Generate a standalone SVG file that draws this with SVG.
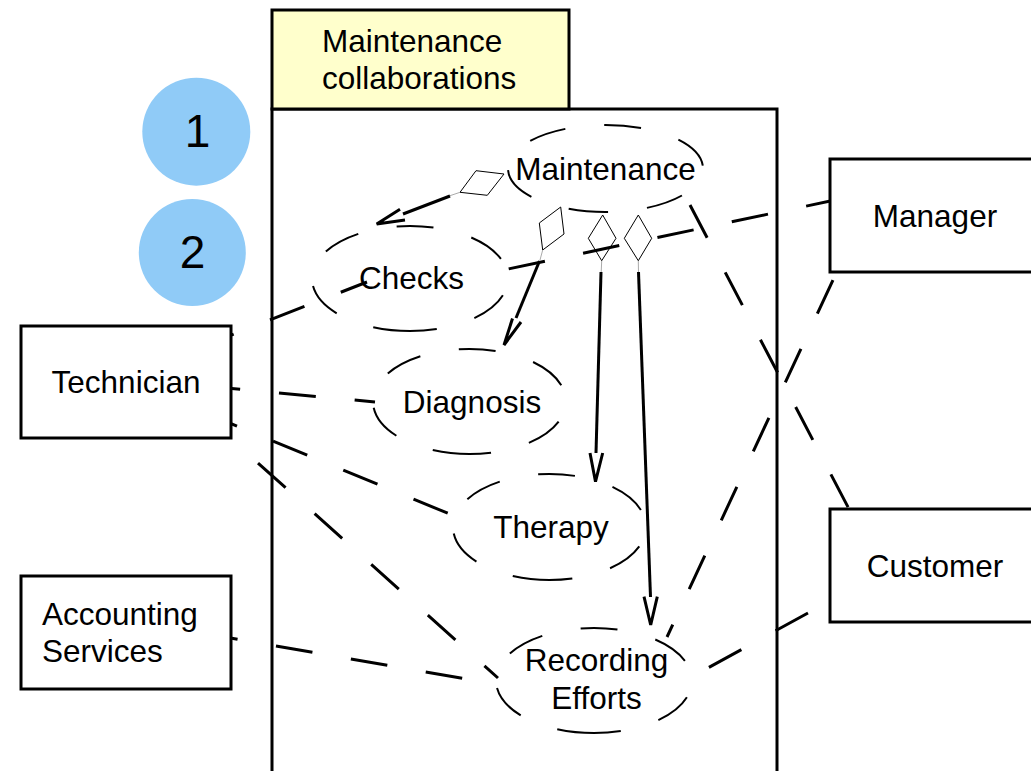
<svg xmlns="http://www.w3.org/2000/svg" width="1031" height="771" viewBox="0 0 1031 771">
  <style>
    text { font-family: "Liberation Sans", Arial, sans-serif; font-size: 31.5px; fill: #000; }
    .num { font-size: 46px; text-anchor: middle; }
    .mid { text-anchor: middle; }
    .pkg { fill: none; stroke: #000; stroke-width: 3; }
    .tab { fill: #FFFFCC; stroke: #000; stroke-width: 3; }
    .actor { fill: #fff; stroke: #000; stroke-width: 3; }
    .usecase { fill: none; stroke: #000; stroke-width: 2; stroke-dasharray: 37 39; }
    .assoc { fill: none; stroke: #000; stroke-width: 3; stroke-dasharray: 37 39; }
    .shaft { fill: none; stroke: #000; stroke-width: 3; }
    .head { fill: none; stroke: #000; stroke-width: 3; stroke-linejoin: miter; }
    .diamond { fill: none; stroke: #000; stroke-width: 1; }
    .tail { stroke: #aaa; stroke-width: 1; }
    .badge { fill: #90CBF7; }
  </style>

  <!-- package frame -->
  <g id="package">
    <rect class="pkg" x="272" y="109" width="505" height="700"/>
    <rect class="tab" x="272" y="10" width="297" height="99"/>
    <text x="322" y="52">Maintenance</text>
    <text x="322" y="89">collaborations</text>
  </g>

  <!-- use cases: dashed ellipses, each path starts at the bottom and runs via the left -->
  <g id="uc-maintenance">
    <path class="usecase" d="M605.5,212 A97.5,43.5 0 0 1 605.5,125 A97.5,43.5 0 0 1 605.5,212 Z"/>
    <text class="mid" x="605.5" y="180">Maintenance</text>
  </g>
  <g id="uc-checks">
    <path class="usecase" d="M410,331 A98,52.5 0 0 1 410,226 A98,52.5 0 0 1 410,331 Z"/>
    <text class="mid" x="411.5" y="289">Checks</text>
  </g>
  <g id="uc-diagnosis">
    <path class="usecase" d="M469.5,454 A96.5,52.5 0 0 1 469.5,349 A96.5,52.5 0 0 1 469.5,454 Z"/>
    <text class="mid" x="472" y="413">Diagnosis</text>
  </g>
  <g id="uc-therapy">
    <path class="usecase" d="M549.5,580 A96.5,53 0 0 1 549.5,474 A96.5,53 0 0 1 549.5,580 Z"/>
    <text class="mid" x="551" y="538">Therapy</text>
  </g>
  <g id="uc-recording">
    <path class="usecase" d="M594,733 A98,52.5 0 0 1 594,628 A98,52.5 0 0 1 594,733 Z"/>
    <text class="mid" x="596.5" y="671">Recording</text>
    <text class="mid" x="596.5" y="709">Efforts</text>
  </g>

  <!-- connectors -->
  <g id="connectors">
    <!-- associations -->
    <line class="assoc" x1="199.2" y1="347.6" x2="367" y2="282"/>
    <line class="assoc" x1="203.3" y1="385.9" x2="375" y2="402"/>
    <line class="assoc" x1="202.8" y1="412" x2="452" y2="515"/>
    <line class="assoc" x1="201.4" y1="412.3" x2="498" y2="678"/>
    <line class="assoc" x1="201.1" y1="632.9" x2="466" y2="679"/>
    <line class="assoc" x1="508.7" y1="268.9" x2="835" y2="200"/>
    <line class="assoc" x1="865" y1="211.1" x2="667" y2="637"/>
    <line class="assoc" x1="690" y1="205" x2="849" y2="509"/>
    <line class="assoc" x1="874.6" y1="576.4" x2="706" y2="669"/>

    <!-- Maintenance to Checks -->
    <polygon class="diamond" points="460,192.3 476,170.7 504,174 487.3,195.3"/>
    <line class="tail" x1="460" y1="192.3" x2="450" y2="195.7"/>
    <line class="shaft" x1="450" y1="196" x2="403" y2="214"/>
    <polyline class="head" points="400,209.3 376.7,224 405,220"/>

    <!-- Maintenance to Diagnosis -->
    <polygon class="diamond" points="539.3,223 560.7,207 564,234 542.7,250"/>
    <line class="tail" x1="542.7" y1="250" x2="540" y2="260"/>
    <line class="shaft" x1="539.5" y1="261" x2="516" y2="318"/>
    <polyline class="head" points="512.5,318.5 504,345 521,322"/>

    <!-- Maintenance to Therapy -->
    <polygon class="diamond" points="588.3,238.3 602.7,215 616,238.3 601.7,260.7"/>
    <line class="tail" x1="601.7" y1="261" x2="601.2" y2="272"/>
    <line class="shaft" x1="601" y1="272" x2="596" y2="453"/>
    <polyline class="head" points="590,453 595.5,481.7 602.7,453"/>

    <!-- Maintenance to Recording Efforts -->
    <polygon class="diamond" points="624.3,238.3 638.3,215 651.7,238.3 638.3,260.7"/>
    <line class="tail" x1="638.3" y1="261" x2="638.5" y2="272"/>
    <line class="shaft" x1="638.5" y1="272" x2="650.5" y2="597"/>
    <polyline class="head" points="644,596.7 650.7,625 657.3,596.7"/>
  </g>

  <!-- actors -->
  <g id="technician">
    <rect class="actor" x="21" y="326" width="210" height="112"/>
    <text class="mid" x="126" y="393">Technician</text>
  </g>
  <g id="accounting">
    <rect class="actor" x="21" y="576" width="210" height="113"/>
    <text x="42" y="625">Accounting</text>
    <text x="42" y="662">Services</text>
  </g>
  <g id="manager">
    <rect class="actor" x="830" y="159" width="210" height="113"/>
    <text class="mid" x="935" y="227">Manager</text>
  </g>
  <g id="customer">
    <rect class="actor" x="830" y="509" width="210" height="113"/>
    <text class="mid" x="935" y="577">Customer</text>
  </g>

  <!-- numbered badges -->
  <g id="badge-1">
    <circle class="badge" cx="196.3" cy="131.7" r="54"/>
    <text class="num" x="197.5" y="147">1</text>
  </g>
  <g id="badge-2">
    <circle class="badge" cx="192.3" cy="252.5" r="53.5"/>
    <text class="num" x="192.5" y="268">2</text>
  </g>
</svg>
